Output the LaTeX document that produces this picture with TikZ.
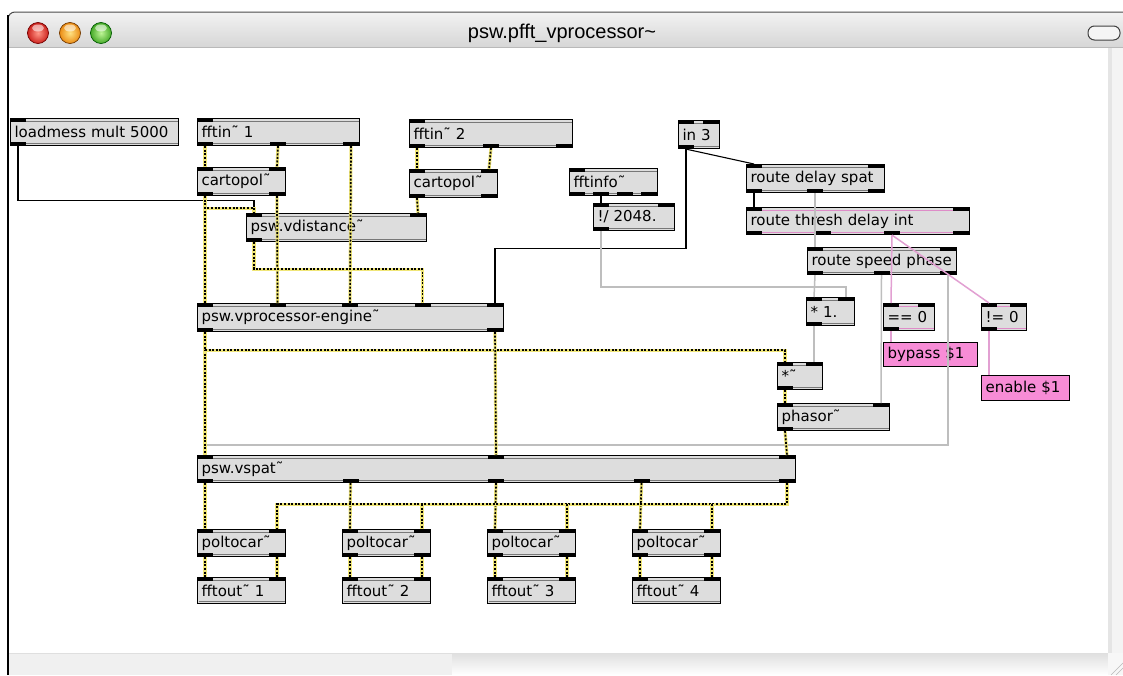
\documentclass[tikz,border=0pt]{standalone}
\usepackage{fontspec}
\setmainfont{DejaVu Sans}
\newfontfamily\titlefont{Liberation Sans}
\usetikzlibrary{calc}

\definecolor{objfill}{RGB}{221,221,221}
\definecolor{msgpink}{RGB}{247,140,214}
\definecolor{linepink}{RGB}{222,140,200}
\definecolor{cordgray}{RGB}{190,190,190}
\definecolor{cordpink}{RGB}{226,160,210}
\definecolor{sigyellow}{RGB}{240,230,120}
\definecolor{stripgray}{RGB}{120,120,120}
\definecolor{redin}{RGB}{255,150,135}
\definecolor{redout}{RGB}{205,35,30}
\definecolor{ambin}{RGB}{255,225,130}
\definecolor{ambout}{RGB}{235,140,20}
\definecolor{grnin}{RGB}{190,245,150}
\definecolor{grnout}{RGB}{70,170,40}

\tikzset{
  objbox/.style={draw=black, line width=1.1pt, fill=objfill, anchor=north west,
    inner xsep=4pt, inner ysep=0pt, align=left, font=\fontsize{15}{18}\selectfont},
  msgbox/.style={objbox, fill=msgpink},
  sig/.style={draw=black, line width=1.7pt, dash pattern=on 2pt off 1.6pt,
    preaction={draw=sigyellow, line width=3.2pt, solid}},
  ctl/.style={draw=black, line width=1.1pt},
  flt/.style={draw=cordgray, line width=1.5pt},
  msgc/.style={draw=cordpink, line width=1.5pt},
  light/.style n args={2}{inner color=#1, outer color=#2},
}

% object box: [strip colour]{name}{left}{top}{width}{height}{text}
\newcommand\mobj[7][stripgray]{%
  \pgfmathsetmacro\mobjtw{#5-8}%
  \node[objbox, minimum width=#5pt, minimum height=#6pt, text width=\mobjtw pt] (#2) at (#3,#4) {#7};
  \draw[#1, line width=1pt] ([shift={(1.5pt,-3pt)}]#2.north west) -- ([shift={(-1.5pt,-3pt)}]#2.north east);
  \draw[#1, line width=1pt] ([shift={(1.5pt,3pt)}]#2.south west) -- ([shift={(-1.5pt,3pt)}]#2.south east);
}
% inlets and outlets: named port coordinates plus the black tabs
\newcommand\inlets[2]{\foreach[count=\i] \o in {#2}{%
  \coordinate (#1-i\i) at ([xshift=\o pt]#1.north west);
  \fill[black] ([xshift=\o pt-8pt]#1.north west) rectangle ([xshift=\o pt+8pt, yshift=-4pt]#1.north west);}}
\newcommand\outlets[2]{\foreach[count=\i] \o in {#2}{%
  \coordinate (#1-o\i) at ([xshift=\o pt]#1.south west);
  \fill[black] ([xshift=\o pt-8pt]#1.south west) rectangle ([xshift=\o pt+8pt, yshift=4pt]#1.south west);}}

\begin{document}
\begin{tikzpicture}[x=1pt, y=-1pt]
\useasboundingbox (0,0) rectangle (1123,675);
\fill[white] (0,0) rectangle (1123,675);

% ---- window chrome ----
\shade[top color=gray!10, bottom color=gray!32]
  (8,47) [rounded corners=7pt] -- (8,12) [sharp corners] -- (1130,12) -- (1130,47) -- cycle;
\draw[gray!60!black, line width=1pt] (8,47) [rounded corners=7pt] -- (8,12) [sharp corners] -- (1130,12);
\draw[gray!55, line width=0.8pt] (9,47) -- (1123,47);
\shade[light={redin}{redout}] (38,33) circle (10.5);
\draw[red!45!black, line width=0.7pt] (38,33) circle (10.5);
\shade[light={ambin}{ambout}] (70,33) circle (10.5);
\draw[orange!45!black, line width=0.7pt] (70,33) circle (10.5);
\shade[light={grnin}{grnout}] (101,33) circle (10.5);
\draw[green!35!black, line width=0.7pt] (101,33) circle (10.5);
\fill[white, opacity=0.55] (38,28) ellipse (6 and 3.5);
\fill[white, opacity=0.55] (70,28) ellipse (6 and 3.5);
\fill[white, opacity=0.55] (101,28) ellipse (6 and 3.5);
\node[font=\titlefont\fontsize{20}{24}\selectfont, inner sep=0pt] (title) at (562,33) {psw.pfft\_vprocessor\textasciitilde};
\draw[gray!50!black, line width=1pt, fill=gray!8, rounded corners=6.5pt] (1088,26) rectangle (1120,40);

% scroll bars
\fill[gray!9] (1108,48) rectangle (1123,653);
\fill[gray!20] (1108,48) rectangle (1112,653);
\fill[gray!12] (9,653) rectangle (452,675);
\shade[top color=gray!25, bottom color=white] (452,653) rectangle (1108,675);
\draw[gray!25, line width=0.8pt] (9,653) -- (1108,653);
\fill[gray!6] (1108,653) rectangle (1123,675);
\draw[gray!55, line width=0.6pt] (1111,675) -- (1123,663) (1116,675) -- (1123,668);
\draw[black, line width=1.5pt] (8,15) -- (8,675);

% ---- objects ----
\mobj{load}{10}{118}{168}{27}{loadmess mult 5000}
\inlets{load}{8} \outlets{load}{8}
\mobj{fftin1}{197}{118}{162}{27}{fftin˜ 1}
\inlets{fftin1}{8} \outlets{fftin1}{8,81,154}
\mobj{cart1}{197}{167}{88}{28}{cartopol˜}
\inlets{cart1}{8,80} \outlets{cart1}{8,80}
\mobj{fftin2}{409}{119}{163}{28}{fftin˜ 2}
\inlets{fftin2}{8} \outlets{fftin2}{8,82,155}
\mobj{cart2}{409}{169}{88}{28}{cartopol˜}
\inlets{cart2}{8,80} \outlets{cart2}{8,80}
\mobj{vdist}{246}{213}{180}{28}{psw.vdistance˜}
\inlets{vdist}{8,172} \outlets{vdist}{8}
\mobj{engine}{197}{303}{306}{28}{psw.vprocessor-engine˜}
\inlets{engine}{8,80.5,153,225.5,298} \outlets{engine}{8,298}
\mobj{fftinfo}{569}{168}{88}{27}{fftinfo˜}
\inlets{fftinfo}{8} \outlets{fftinfo}{8,32,56,80}
\mobj{rdiv}{593}{203}{81}{27}{!/ 2048.}
\inlets{rdiv}{8,73} \outlets{rdiv}{8}
\mobj{in3}{678}{120}{41}{28}{in 3}
\inlets{in3}{8,33} \outlets{in3}{8}
\mobj{rds}{746}{164}{138}{28}{route delay spat}
\inlets{rds}{8,130} \outlets{rds}{8,69,130}
\mobj[linepink]{rtdi}{746}{207}{223}{27}{route thresh delay int}
\inlets{rtdi}{8,215} \outlets{rtdi}{8,77,146,215}
\mobj{rsp}{807}{247}{149}{27}{route speed phase}
\inlets{rsp}{8,141} \outlets{rsp}{8,74.5,141}
\mobj{mul1}{806}{297}{48}{28}{* 1.}
\inlets{mul1}{8,40} \outlets{mul1}{8}
\mobj[linepink]{eq0}{883}{303}{51}{27}{== 0}
\inlets{eq0}{8,43} \outlets{eq0}{8}
\mobj[linepink]{ne0}{981}{303}{45}{27}{!= 0}
\inlets{ne0}{8,37} \outlets{ne0}{8}
\node[msgbox, minimum width=94pt, minimum height=24pt, text width=86pt] (bypass) at (883,342) {bypass \$1};
\node[msgbox, minimum width=88pt, minimum height=25pt, text width=80pt] (enable) at (981,375) {enable \$1};
\mobj{mulsig}{777}{362}{45}{27}{*˜}
\inlets{mulsig}{8,37} \outlets{mulsig}{8}
\mobj{phasor}{777}{403}{112}{27}{phasor˜}
\inlets{phasor}{8,104} \outlets{phasor}{8}
\mobj{vspat}{197}{455}{598}{27}{psw.vspat˜}
\inlets{vspat}{8,299,590} \outlets{vspat}{8,153.5,299,444.5,590}

\mobj{pol1}{197}{529}{88}{27}{poltocar˜}
\inlets{pol1}{8,80} \outlets{pol1}{8,80}
\mobj{pol2}{342}{529}{88}{27}{poltocar˜}
\inlets{pol2}{8,80} \outlets{pol2}{8,80}
\mobj{pol3}{487}{529}{88}{27}{poltocar˜}
\inlets{pol3}{8,80} \outlets{pol3}{8,80}
\mobj{pol4}{632}{529}{88}{27}{poltocar˜}
\inlets{pol4}{8,80} \outlets{pol4}{8,80}

\mobj{fout1}{197}{577}{88}{26}{fftout˜ 1}
\inlets{fout1}{8,80}
\mobj{fout2}{342}{577}{88}{26}{fftout˜ 2}
\inlets{fout2}{8,80}
\mobj{fout3}{487}{577}{88}{26}{fftout˜ 3}
\inlets{fout3}{8,80}
\mobj{fout4}{632}{577}{88}{26}{fftout˜ 4}
\inlets{fout4}{8,80}

% ---- control cords ----
\draw[ctl] (load-o1) -- ++(0,54) -| (vdist-i1);
\draw[ctl] (fftinfo-o2) -- (rdiv-i1);
\draw[ctl] (in3-o1) -- (rds-i1);
\draw[ctl] (in3-o1) -- ++(0,99) -| (engine-i5);
\draw[ctl] (rds-o1) -- (rtdi-i1);

% ---- float cords ----
\draw[flt] (rdiv-o1) -- ++(0,56) -| (mul1-i2);
\draw[flt] (rds-o2) -- (rsp-i1);
\draw[flt] (rsp-o1) -- (mul1-i1);
\draw[flt] (mul1-o1) -- (mulsig-i2);
\draw[flt] (rsp-o2) -- (phasor-i2);
\draw[flt] (rsp-o3) -- ++(0,170) -| (vspat-i1);

% ---- message cords ----
\draw[msgc] (rtdi-o3) -- (eq0-i1);
\draw[msgc] (rtdi-o3) -- (ne0-i1);
\draw[msgc] (eq0-o1) -- ([xshift=8pt]bypass.north west);
\draw[msgc] (ne0-o1) -- ([xshift=8pt]enable.north west);

% ---- signal cords ----
\draw[sig] (fftin1-o1) -- (cart1-i1);
\draw[sig] (fftin1-o2) -- (cart1-i2);
\draw[sig] (fftin1-o3) -- (engine-i3);
\draw[sig] (fftin2-o1) -- (cart2-i1);
\draw[sig] (fftin2-o2) -- (cart2-i2);
\draw[sig] (cart1-o1) -- (engine-i1);
\draw[sig] (cart1-o1) -- ++(0,12) -| (vdist-i1);
\draw[sig] (cart1-o2) -- (engine-i2);
\draw[sig] (cart2-o1) -- (vdist-i2);
\draw[sig] (vdist-o1) -- ++(0,27) -| (engine-i4);
\draw[sig] (engine-o1) -- (vspat-i1);
\draw[sig] (engine-o1) -- ++(0,18) -| (mulsig-i1);
\draw[sig] (engine-o2) -- (vspat-i2);
\draw[sig] (mulsig-o1) -- (phasor-i1);
\draw[sig] (phasor-o1) -- (vspat-i3);

\draw[sig] (vspat-o1) -- (pol1-i1);
\draw[sig] (vspat-o2) -- (pol2-i1);
\draw[sig] (vspat-o3) -- (pol3-i1);
\draw[sig] (vspat-o4) -- (pol4-i1);
\coordinate (bus) at ([yshift=-21pt]vspat-o5);
\draw[sig] (vspat-o5) -- (bus) -| (pol1-i2);
\draw[sig] (pol2-i2 |- bus) -- (pol2-i2);
\draw[sig] (pol3-i2 |- bus) -- (pol3-i2);
\draw[sig] (pol4-i2 |- bus) -- (pol4-i2);

\draw[sig] (pol1-o1) -- (fout1-i1);
\draw[sig] (pol1-o2) -- (fout1-i2);
\draw[sig] (pol2-o1) -- (fout2-i1);
\draw[sig] (pol2-o2) -- (fout2-i2);
\draw[sig] (pol3-o1) -- (fout3-i1);
\draw[sig] (pol3-o2) -- (fout3-i2);
\draw[sig] (pol4-o1) -- (fout4-i1);
\draw[sig] (pol4-o2) -- (fout4-i2);
\end{tikzpicture}
\end{document}
